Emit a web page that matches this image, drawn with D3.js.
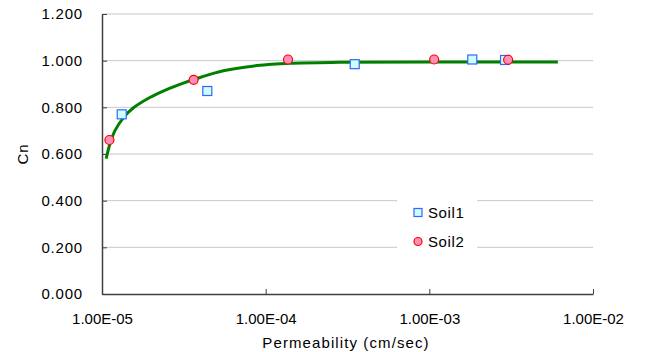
<!DOCTYPE html>
<html>
<head>
<meta charset="utf-8">
<script src="https://cdn.jsdelivr.net/npm/d3@7"></script>
<style>
  body { margin: 0; background: #fff; }
  text { font-family: "Liberation Sans", Arial, sans-serif; }
</style>
</head>
<body>
<div id="chart"></div>
<script>
// values
var soil1X = [1.32e-5, 4.4e-5, 3.5e-4, 1.83e-3, 2.9e-3];
var soil1Y = [0.770, 0.870, 0.985, 1.005, 1.003];
var soil2X = [1.11e-5, 3.63e-5, 1.37e-4, 1.07e-3, 3.03e-3];
var soil2Y = [0.660, 0.918, 1.005, 1.005, 1.004];
var fitX = [1.06e-5, 1.12e-5, 1.20e-5, 1.35e-5, 1.55e-5, 1.96e-5, 2.48e-5, 3.14e-5, 3.97e-5, 5.51e-5, 8.81e-5, 1.41e-4, 2.84e-4, 1.0e-3, 6.1e-3];
var fitY = [0.580, 0.645, 0.700, 0.755, 0.797, 0.842, 0.876, 0.904, 0.928, 0.957, 0.979, 0.989, 0.993, 0.994, 0.994];
var yTicks = [0, 0.2, 0.4, 0.6, 0.8, 1.0, 1.2];
var xTicks = [1e-5, 1e-4, 1e-3, 1e-2];
var seriesNames = ['Soil1', 'Soil2'];

var width = 653, height = 352;
var plotL = 102, plotR = 593, plotT = 14, plotB = 294;

var svg = d3.select('#chart').append('svg')
    .attr('width', width)
    .attr('height', height);

var x = d3.scaleLog().domain([1e-5, 1e-2]).range([plotL, plotR]);
var y = d3.scaleLinear().domain([0, 1.2]).range([plotB, plotT]);

// gridlines
svg.selectAll('.grid').data(yTicks.slice(1)).enter()
    .append('line')
    .attr('x1', plotL).attr('x2', plotR)
    .attr('y1', function (d) { return y(d); })
    .attr('y2', function (d) { return y(d); })
    .attr('stroke', '#c8c8c8')
    .attr('stroke-width', 1);

// y axis
var yAxis = d3.axisLeft(y).tickValues(yTicks)
    .tickFormat(d3.format('.3f'))
    .tickSizeInner(-5).tickSizeOuter(0).tickPadding(19);
var gy = svg.append('g').attr('transform', 'translate(' + plotL + ',0)').call(yAxis);
gy.select('.domain').attr('stroke', '#404040').attr('stroke-width', 1.5);
gy.selectAll('.tick line').attr('stroke', '#404040');
gy.selectAll('.tick text').attr('font-size', 15).attr('letter-spacing', 0.8).attr('fill', '#000');

// x axis
var xAxis = d3.axisBottom(x).tickValues(xTicks)
    .tickFormat(function (d) { return d.toExponential(2).toUpperCase().replace('E-', 'E-0'); })
    .tickSizeInner(-5).tickSizeOuter(0).tickPadding(19);
var gx = svg.append('g').attr('transform', 'translate(0,' + plotB + ')').call(xAxis);
gx.select('.domain').attr('stroke', '#404040').attr('stroke-width', 1.5);
gx.selectAll('.tick line').attr('stroke', '#404040');
gx.selectAll('.tick text').attr('font-size', 15).attr('fill', '#000');

// axis titles
svg.append('text')
    .attr('x', 346).attr('y', 348)
    .attr('text-anchor', 'middle')
    .attr('font-size', 15)
    .attr('letter-spacing', 1.1)
    .text('Permeability (cm/sec)');
svg.append('text')
    .attr('transform', 'translate(28,154) rotate(-90)')
    .attr('text-anchor', 'middle')
    .attr('font-size', 15)
    .attr('letter-spacing', 0.8)
    .text('Cn');

// fitted curve
var fit = fitX.map(function (d, i) { return [d, fitY[i]]; });
svg.append('path')
    .datum(fit)
    .attr('d', d3.line()
        .x(function (d) { return x(d[0]); })
        .y(function (d) { return y(d[1]); })
        .curve(d3.curveCatmullRom.alpha(0.5)))
    .attr('fill', 'none')
    .attr('stroke', '#008000')
    .attr('stroke-width', 3);

// Soil1 squares
var s1 = soil1X.map(function (d, i) { return [d, soil1Y[i]]; });
svg.selectAll('.soil1').data(s1).enter()
    .append('rect')
    .attr('x', function (d) { return x(d[0]) - 4.5; })
    .attr('y', function (d) { return y(d[1]) - 4.5; })
    .attr('width', 9).attr('height', 9)
    .attr('fill', '#ccffff')
    .attr('stroke', '#3366ff')
    .attr('stroke-width', 1.2);

// Soil2 circles
var s2 = soil2X.map(function (d, i) { return [d, soil2Y[i]]; });
svg.selectAll('.soil2').data(s2).enter()
    .append('circle')
    .attr('cx', function (d) { return x(d[0]); })
    .attr('cy', function (d) { return y(d[1]); })
    .attr('r', 4.5)
    .attr('fill', '#ff8fb8')
    .attr('stroke', '#ff0000')
    .attr('stroke-width', 1.2);

// legend
var lg = svg.append('g');
lg.append('rect')
    .attr('x', 397).attr('y', 195).attr('width', 80).attr('height', 58)
    .attr('fill', '#fff');
lg.append('rect')
    .attr('x', 414).attr('y', 208.5).attr('width', 8).attr('height', 8)
    .attr('fill', '#ccffff').attr('stroke', '#3366ff').attr('stroke-width', 1.2);
lg.append('circle')
    .attr('cx', 418).attr('cy', 241.5).attr('r', 4)
    .attr('fill', '#ff8fb8').attr('stroke', '#ff0000').attr('stroke-width', 1.2);
lg.selectAll('.lbl').data(seriesNames).enter()
    .append('text')
    .attr('x', 428)
    .attr('y', function (d, i) { return 218 + i * 29; })
    .attr('font-size', 15)
    .attr('letter-spacing', 0.6)
    .text(function (d) { return d; });
</script>
</body>
</html>
